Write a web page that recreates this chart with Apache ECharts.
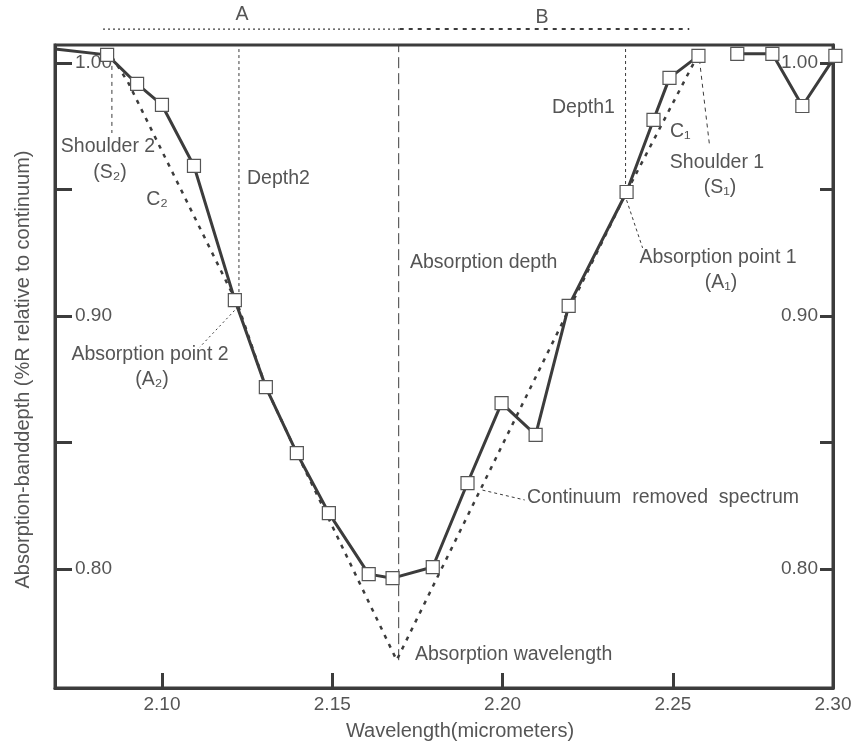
<!DOCTYPE html>
<html>
<head>
<meta charset="utf-8">
<script src="https://cdn.jsdelivr.net/npm/echarts@6/dist/echarts.min.js"></script>
<style>
  html, body { margin: 0; padding: 0; background: #fff; }
  #chart { width: 856px; height: 747px; }
</style>
</head>
<body>
<div id="chart"></div>
<script>
// spectrum samples (micrometers, relative reflectance); null = gap in the trace
const wavelength = [2.0686, 2.0839, 2.0927, 2.1000, 2.1094, 2.1214, 2.1305, 2.1396, 2.1490, 2.1607, 2.1677,
  2.1795, 2.1897, 2.1997, 2.2097, 2.2194, 2.2364, 2.2443, 2.2490, 2.2575, 2.2630, 2.2689, 2.2792, 2.2880, 2.2977];
const reflectance = [1.0055, 1.0032, 0.9917, 0.9834, 0.9593, 0.9063, 0.8719, 0.8458, 0.8221, 0.7980, 0.7964,
  0.8008, 0.8340, 0.8656, 0.8530, 0.9040, 0.9490, 0.9775, 0.9941, 1.0028, null, 1.0036, 1.0036, 0.9830, 1.0028];

// continuum lines through shoulders / absorption points down to the band minimum
const hullX = [2.0853, 2.0900, 2.1223, 2.1305, 2.1396, 2.1487, 2.1689, 2.2367, 2.2569];
const hullY = [1.0024, 0.9925, 0.9043, 0.8719, 0.8458, 0.8206, 0.7640, 0.9498, 1.0020];

const xTicks = [2.10, 2.15, 2.20, 2.25];
const xLabels = [2.10, 2.15, 2.20, 2.25, 2.30];
const yTicks = [0.80, 0.85, 0.90, 0.95, 1.00];
const yLabels = [0.80, 0.90, 1.00];

const X_MIN = 2.0686, X_MAX = 2.297, Y_MIN = 0.753, Y_MAX = 1.0071;

// guide lines in data coords
const absDepthLine = [[2.1695, 0.764], [2.1695, Y_MAX]];
const depth2Line = [[2.1226, 0.9071], [2.1226, Y_MAX]];
const depth1Line = [[2.2361, 0.9498], [2.2361, Y_MAX]];
const shoulder2Line = [[2.0853, 1.002], [2.0853, 0.9723]];
const shoulder1Line = [[2.2578, 1.0012], [2.2607, 0.968]];
const absPt1Line = [[2.2364, 0.9458], [2.2411, 0.9269]];
const absPt2Line = [[2.1223, 0.9036], [2.1111, 0.8877]];
const crsLine = [[2.1941, 0.8312], [2.2065, 0.8273]];
const rangeA = [[2.0827, 1.0134], [2.1698, 1.0134]];
const rangeB = [[2.1698, 1.0134], [2.2548, 1.0134]];

const DARK = '#3c3c3c';
const TEXT = '#555';
const FONT = '"Liberation Sans", Arial, sans-serif';

const guide = (name, pts, type, width) => ({
  name,
  type: 'line',
  data: pts,
  symbol: 'none',
  silent: true,
  clip: false,
  z: 1,
  lineStyle: { color: DARK, width, type }
});

// [text, x, y, align]
const labels = [
  ['A', 242, 15, 'center'],
  ['B', 542, 18, 'center'],
  ['Shoulder 2', 108, 147, 'center'],
  ['(S\u2082)', 110, 173, 'center'],
  ['C\u2082', 157, 200, 'center'],
  ['Depth2', 247, 179, 'left'],
  ['Absorption depth', 410, 263, 'left'],
  ['Depth1', 552, 108, 'left'],
  ['C\u2081', 670, 132, 'left'],
  ['Shoulder 1', 717, 163, 'center'],
  ['(S\u2081)', 720, 188, 'center'],
  ['Absorption point 1', 718, 258, 'center'],
  ['(A\u2081)', 721, 283, 'center'],
  ['Absorption point 2', 150, 355, 'center'],
  ['(A\u2082)', 152, 380, 'center'],
  ['Continuum  removed  spectrum', 527, 498, 'left'],
  ['Absorption wavelength', 415, 655, 'left']
];

const chart = echarts.init(document.getElementById('chart'));

const yAxisCommon = {
  type: 'value',
  min: Y_MIN,
  max: Y_MAX,
  axisLine: { show: true, lineStyle: { color: DARK, width: 3 } },
  splitLine: { show: false },
  axisLabel: {
    inside: true,
    customValues: yLabels,
    formatter: v => v.toFixed(2),
    color: TEXT,
    fontSize: 19,
    fontFamily: FONT
  }
};

chart.setOption({
  animation: false,
  backgroundColor: '#fff',
  grid: {
    left: 55, right: 23, top: 45, bottom: 59,
    show: true, borderWidth: 3, borderColor: DARK
  },
  xAxis: {
    type: 'value',
    min: X_MIN,
    max: X_MAX,
    name: 'Wavelength(micrometers)',
    nameLocation: 'middle',
    nameGap: 33,
    nameTextStyle: { color: TEXT, fontSize: 20, fontFamily: FONT, padding: [0, 0, 0, 32] },
    axisLine: { show: true, lineStyle: { color: DARK, width: 3 } },
    axisTick: { inside: true, length: 15, customValues: xTicks, lineStyle: { color: DARK, width: 3 } },
    axisLabel: {
      customValues: xLabels.map(v => Math.min(v, X_MAX)),
      formatter: v => v.toFixed(2),
      margin: 7,
      color: TEXT,
      fontSize: 19,
      fontFamily: FONT
    },
    splitLine: { show: false }
  },
  yAxis: [
    Object.assign({}, yAxisCommon, {
      position: 'left',
      name: 'Absorption-banddepth (%R relative to continuum)',
      nameLocation: 'middle',
      nameGap: 22,
      nameTextStyle: { color: TEXT, fontSize: 20, fontFamily: FONT, padding: [0, 6, 0, 0] },
      axisTick: { inside: true, length: 17, customValues: yTicks, lineStyle: { color: DARK, width: 3 } },
      axisLabel: Object.assign({}, yAxisCommon.axisLabel, { margin: 20 })
    }),
    Object.assign({}, yAxisCommon, {
      position: 'right',
      axisTick: { inside: true, length: 13, customValues: yTicks, lineStyle: { color: DARK, width: 3 } },
      axisLabel: Object.assign({}, yAxisCommon.axisLabel, { margin: 15 })
    })
  ],
  series: [
    guide('rangeA', rangeA, [2, 3], 1.2),
    guide('rangeB', rangeB, [4, 5], 2),
    guide('absorption depth', absDepthLine, [11, 5], 1),
    guide('depth2', depth2Line, [3, 3], 1),
    guide('depth1', depth1Line, [3, 3], 1),
    guide('shoulder2', shoulder2Line, [4, 4], 1),
    guide('shoulder1', shoulder1Line, [4, 4], 1),
    guide('absPt1', absPt1Line, [3, 3], 1),
    guide('absPt2', absPt2Line, [2, 3], 1),
    guide('crs', crsLine, [3, 3], 1),
    {
      name: 'continuum',
      type: 'line',
      data: hullX.map((x, i) => [x, hullY[i]]),
      symbol: 'none',
      clip: false,
      z: 2,
      lineStyle: { color: DARK, width: 2.5, type: [4, 6] }
    },
    {
      name: 'spectrum',
      type: 'line',
      data: wavelength.map((x, i) => {
        const v = [x, reflectance[i] === null ? '-' : reflectance[i]];
        return i === 0 ? { value: v, symbol: 'none' } : v;
      }),
      symbol: 'rect',
      symbolSize: 13,
      showAllSymbol: true,
      connectNulls: false,
      clip: false,
      z: 3,
      lineStyle: { color: DARK, width: 3 },
      itemStyle: { color: '#fff', borderColor: '#555', borderWidth: 1.2 }
    }
  ],
  graphic: labels.map(([text, x, y, align]) => ({
    type: 'text',
    x,
    y,
    silent: true,
    style: {
      text,
      fill: TEXT,
      fontSize: 19.5,
      fontFamily: FONT,
      align,
      textAlign: align,
      verticalAlign: 'middle',
      textVerticalAlign: 'middle'
    }
  }))
});
</script>
</body>
</html>
